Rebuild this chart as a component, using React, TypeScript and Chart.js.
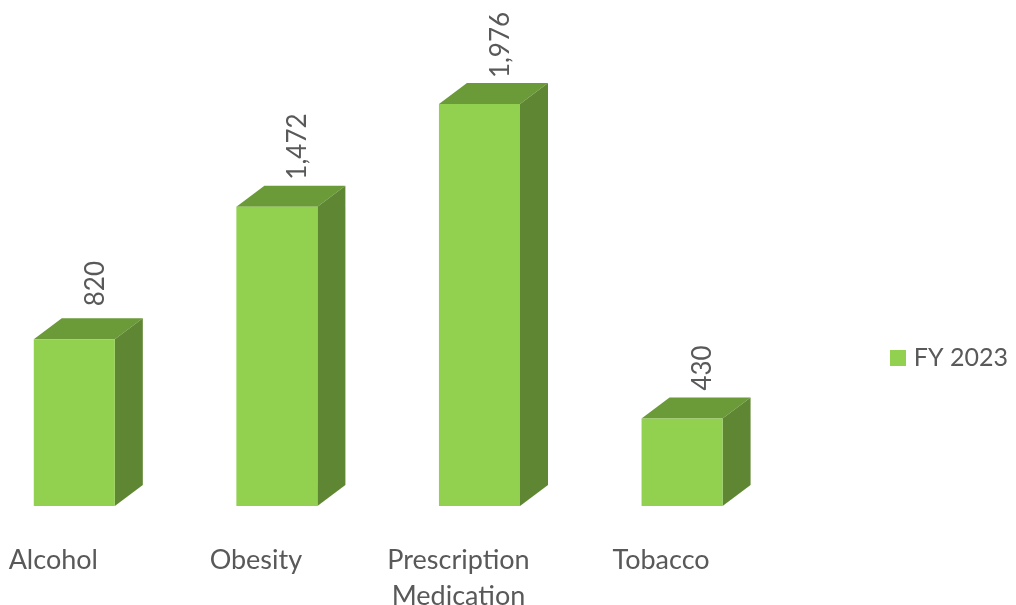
import React, { useEffect, useRef } from "react";
import { Chart, registerables } from "chart.js";

Chart.register(...registerables);

const categories = ["Alcohol", "Obesity", ["Prescription", "Medication"], "Tobacco"];
const seriesName = "FY 2023";
const values = [820, 1472, 1976, 430];
const valueLabels = ["820", "1,472", "1,976", "430"];
const labelGaps = [33, 27, 26, 28];
const axisMax = 2129;

const FRONT = "#92d050";
const SIDE = "#5f8632";
const TOP = "#6b9a38";
const TEXT = "#595959";
const FONT = "Lato";
const DEPTH_X = 28;
const DEPTH_Y = 21;

const depthPlugin = {
  id: "depth",
  beforeDatasetsDraw(chart: any) {
    const { ctx } = chart;
    chart.getDatasetMeta(0).data.forEach((bar: any) => {
      const half = bar.width / 2;
      const l = bar.x - half;
      const r = bar.x + half;
      const t = bar.y;
      const b = bar.base;
      ctx.save();
      ctx.fillStyle = TOP;
      ctx.beginPath();
      ctx.moveTo(l, t);
      ctx.lineTo(l + DEPTH_X, t - DEPTH_Y);
      ctx.lineTo(r + DEPTH_X, t - DEPTH_Y);
      ctx.lineTo(r, t);
      ctx.closePath();
      ctx.fill();
      ctx.fillStyle = SIDE;
      ctx.beginPath();
      ctx.moveTo(r, t);
      ctx.lineTo(r + DEPTH_X, t - DEPTH_Y);
      ctx.lineTo(r + DEPTH_X, b - DEPTH_Y);
      ctx.lineTo(r, b);
      ctx.closePath();
      ctx.fill();
      ctx.restore();
    });
  },
  afterDraw(chart: any) {
    const { ctx } = chart;
    chart.getDatasetMeta(0).data.forEach((bar: any, i: number) => {
      ctx.save();
      ctx.translate(bar.x + 21, bar.y - labelGaps[i]);
      ctx.rotate(-Math.PI / 2);
      ctx.font = `26px ${FONT}`;
      ctx.fillStyle = TEXT;
      ctx.textAlign = "left";
      ctx.textBaseline = "middle";
      ctx.fillText(valueLabels[i], 0, 0);
      ctx.restore();
    });
  },
};

export default function App() {
  const ref = useRef<HTMLCanvasElement>(null);
  useEffect(() => {
    const swatch = document.createElement("canvas");
    swatch.width = 16;
    swatch.height = 16;
    const sctx = swatch.getContext("2d")!;
    sctx.fillStyle = FRONT;
    sctx.fillRect(0, 0, 16, 16);

    const chart = new Chart(ref.current!, {
      type: "bar",
      data: {
        labels: categories as any,
        datasets: [
          {
            label: seriesName,
            data: values,
            backgroundColor: FRONT,
            barPercentage: 0.4,
            categoryPercentage: 1,
          },
        ],
      },
      options: {
        responsive: false,
        animation: false,
        layout: { padding: { left: 0, right: 0, top: 73, bottom: 0 } },
        plugins: {
          tooltip: { enabled: false },
          legend: {
            position: "right",
            labels: {
              usePointStyle: true,
              pointStyle: swatch,
              pointStyleWidth: 6,
              padding: 112,
              color: TEXT,
              font: { family: FONT, size: 25 },
            },
          },
        },
        scales: {
          y: { display: false, min: 0, max: axisMax },
          x: {
            grid: { display: false },
            border: { display: false },
            ticks: {
              color: TEXT,
              font: { family: FONT, size: 27, lineHeight: 1.333 },
              padding: 28,
              labelOffset: -21,
              maxRotation: 0,
              autoSkip: false,
            },
          },
        },
      },
      plugins: [depthPlugin],
    } as any);
    return () => chart.destroy();
  }, []);
  return (
    <div style={{ position: "absolute", left: 0, top: 0, width: 1016, height: 605, overflow: "hidden", background: "#fff" }}>
      <canvas ref={ref} width={1045} height={642} style={{ position: "absolute", left: -27, top: 0 }} />
    </div>
  );
}
